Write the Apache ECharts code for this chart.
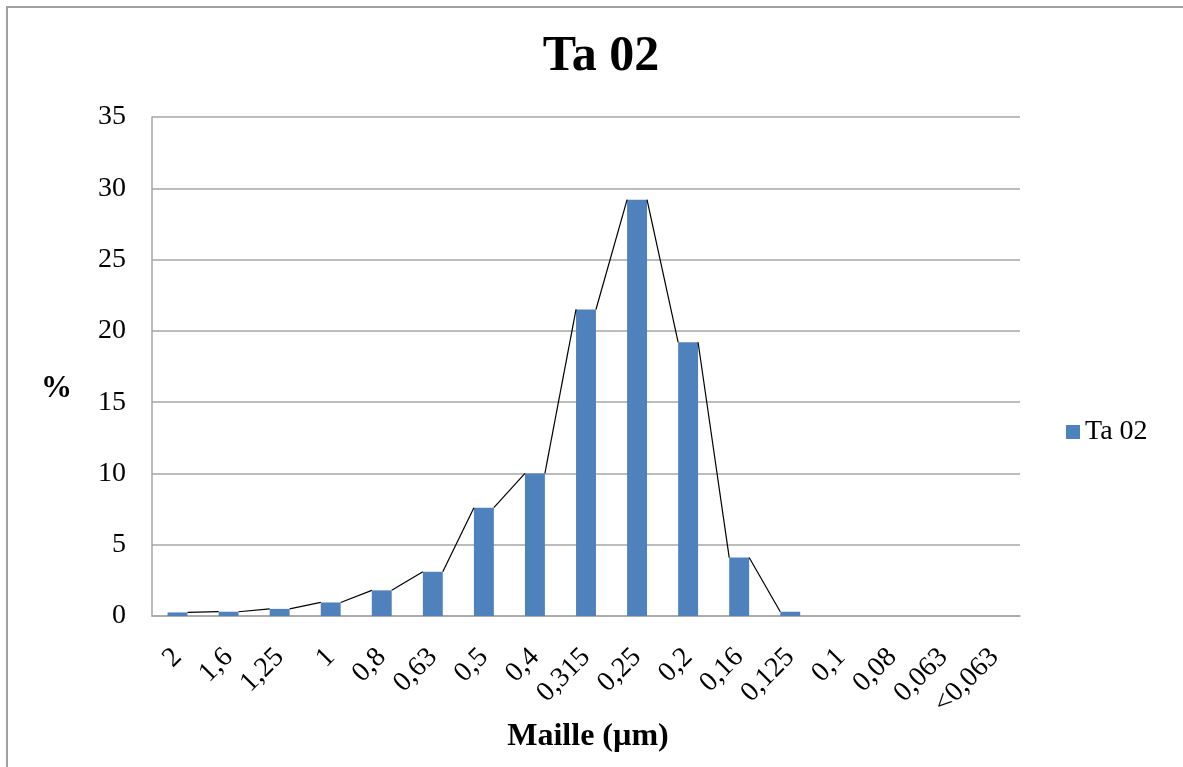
<!DOCTYPE html>
<html>
<head>
<meta charset="utf-8">
<title>Ta 02</title>
<script src="https://cdn.jsdelivr.net/npm/echarts@6/dist/echarts.min.js"></script>
<style>
  html, body { margin: 0; padding: 0; background: #fff; }
  #chart { width: 1183px; height: 767px; }
</style>
</head>
<body>
<div id="chart"></div>
<script>
// Sieve sizes (mesh openings) and the percentage retained on each; empty sieves have no value
var categories = ['2', '1,6', '1,25', '1', '0,8', '0,63', '0,5', '0,4', '0,315', '0,25', '0,2', '0,16', '0,125', '0,1', '0,08', '0,063', '<0,063'];
var values = [0.25, 0.3, 0.5, 0.95, 1.8, 3.1, 7.6, 10.0, 21.5, 29.2, 19.2, 4.1, 0.3, null, null, null, null];
var yTicks = [0, 5, 10, 15, 20, 25, 30, 35];

var SERIF = '"Liberation Serif", "DejaVu Serif", serif';
var BAR_RATIO = 0.39;
var GRID = { left: 152, right: 163, top: 117, bottom: 151 };

// Segments joining the top-right corner of each column to the top-left of the next
var linkData = [];
for (var i = 0; i < values.length - 1; i++) {
  if (values[i] != null && values[i + 1] != null) {
    linkData.push([i, values[i], values[i + 1]]);
  }
}

var chart = echarts.init(document.getElementById('chart'), null, { renderer: 'canvas' });

chart.setOption({
  backgroundColor: '#ffffff',
  animation: false,
  title: {
    text: 'Ta 02',
    left: 596,
    top: 27,
    textAlign: 'center',
    textStyle: { fontFamily: SERIF, fontWeight: 'bold', fontSize: 50, color: '#000' }
  },
  legend: {
    data: ['Ta 02'],
    orient: 'vertical',
    left: 1061,
    top: 413,
    itemWidth: 14,
    itemHeight: 14,
    itemGap: 10,
    icon: 'rect',
    textStyle: { fontFamily: SERIF, fontSize: 28, color: '#000' }
  },
  grid: GRID,
  xAxis: {
    type: 'category',
    data: categories,
    boundaryGap: true,
    axisLine: { show: true, lineStyle: { color: '#a6a6a6', width: 1.5 } },
    axisTick: { show: false },
    axisLabel: {
      interval: 0,
      rotate: 45,
      margin: 37,
      fontFamily: SERIF,
      fontSize: 28,
      color: '#000'
    },
    splitLine: { show: false }
  },
  yAxis: {
    type: 'value',
    min: yTicks[0],
    max: yTicks[yTicks.length - 1],
    interval: 5,
    axisLine: { show: true, lineStyle: { color: '#a6a6a6', width: 1.5 } },
    axisTick: { show: false },
    axisLabel: {
      margin: 26,
      fontFamily: SERIF,
      fontSize: 28,
      color: '#000',
      formatter: function (v) { return String(v); }
    },
    splitLine: { show: true, lineStyle: { color: '#a6a6a6', width: 1.5 } }
  },
  graphic: [
    // outer frame of the chart area
    {
      type: 'rect',
      shape: { x: 7, y: 7, width: 1400, height: 1000 },
      style: { fill: null, stroke: '#a0a0a0', lineWidth: 2 },
      silent: true,
      z: 100
    },
    {
      type: 'text',
      left: 41,
      top: 373,
      style: { text: '%', fontFamily: SERIF, fontWeight: 'bold', fontSize: 31, fill: '#000' }
    },
    {
      type: 'text',
      x: 588,
      y: 737,
      style: {
        text: 'Maille (µm)', fontFamily: SERIF, fontWeight: 'bold', fontSize: 32, fill: '#000',
        align: 'center', verticalAlign: 'middle'
      }
    }
  ],
  series: [
    {
      name: 'Ta 02',
      type: 'bar',
      data: values,
      barWidth: (BAR_RATIO * 100) + '%',
      itemStyle: { color: '#4f81bd' },
      z: 2
    },
    {
      name: 'links',
      type: 'custom',
      data: linkData,
      encode: { x: 0, y: [1, 2] },
      silent: true,
      z: 3,
      renderItem: function (params, api) {
        var half = api.size([1, 0])[0] * BAR_RATIO / 2;
        var p0 = api.coord([api.value(0), api.value(1)]);
        var p1 = api.coord([api.value(0) + 1, api.value(2)]);
        return {
          type: 'line',
          shape: { x1: p0[0] + half, y1: p0[1], x2: p1[0] - half, y2: p1[1] },
          style: { stroke: '#000', lineWidth: 1.2 }
        };
      }
    }
  ]
});
</script>
</body>
</html>
